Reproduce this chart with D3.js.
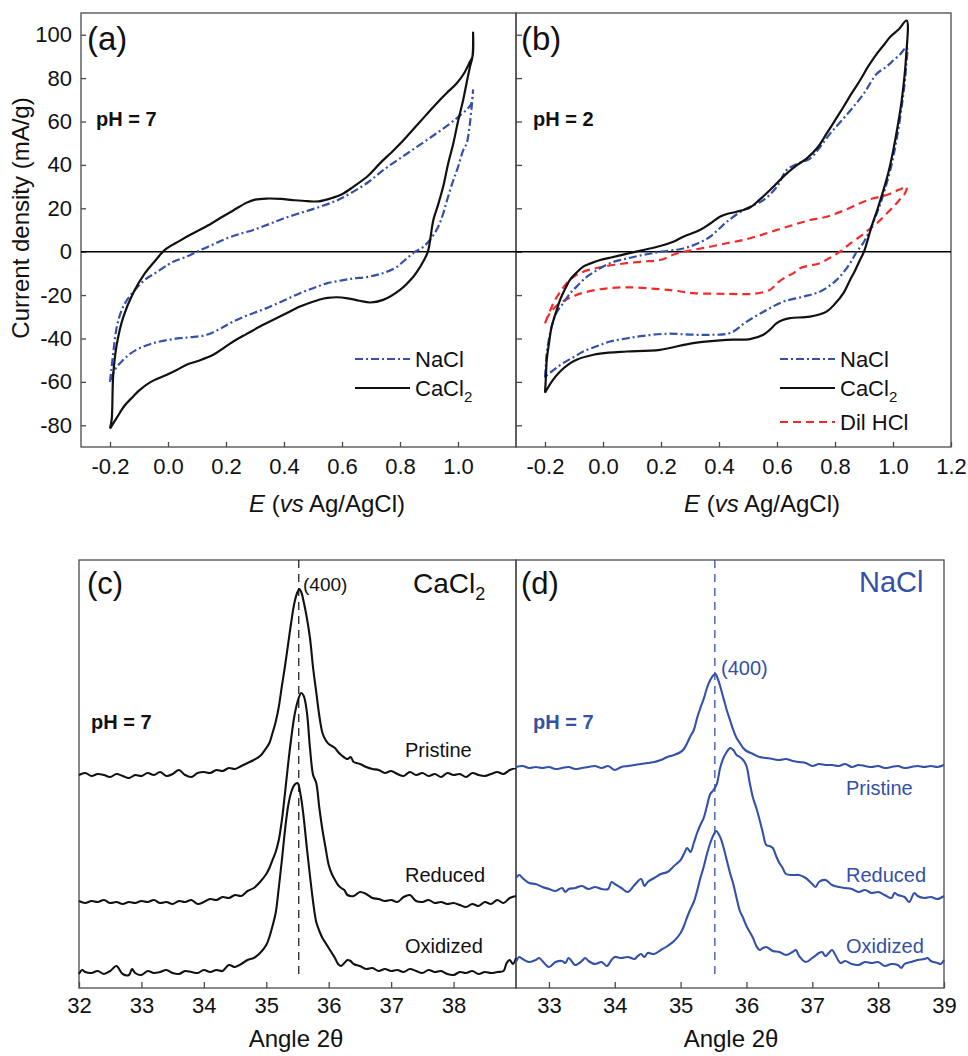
<!DOCTYPE html>
<html><head><meta charset="utf-8">
<script src="https://cdn.jsdelivr.net/npm/d3@7/dist/d3.min.js"></script>
<style>
html,body{margin:0;padding:0;background:#fff;}
text{font-family:"Liberation Sans",Arial,Helvetica,sans-serif;}
</style></head>
<body>
<svg id="fig" width="968" height="1056"></svg>
<script>
// ---------------- DATA ----------------
// Cyclic voltammograms [E (V vs Ag/AgCl), current density (mA/g)]
const cvTicksA = [-0.2,0,0.2,0.4,0.6,0.8,1.0];
const cvTicksB = [-0.2,0,0.2,0.4,0.6,0.8,1.0,1.2];
const cvYTicks = [-80,-60,-40,-20,0,20,40,60,80,100];

const aCaCl2 = [[-0.2,-81.5],[-0.194,-77],[-0.189,-57],[-0.177,-43],[-0.154,-30],[-0.12,-19],[-0.08,-10],[-0.04,-3.5],[-0.01,1],[0.04,5],[0.08,8],[0.13,11.5],[0.18,15.5],[0.225,19],[0.27,22.5],[0.3,24],[0.34,24.5],[0.39,24.3],[0.43,23.8],[0.48,23.3],[0.52,23.2],[0.56,24.5],[0.6,26.5],[0.64,30],[0.69,35],[0.73,40.6],[0.78,47],[0.823,53],[0.87,60],[0.915,66.7],[0.96,73],[0.995,77.5],[1.02,82],[1.041,87.5],[1.05,90],[1.052,101],[1.05,90],[1.041,85],[1.03,78],[1.018,70],[1.0,60],[0.984,50],[0.965,40],[0.949,30],[0.93,21],[0.915,14.6],[0.896,0],[0.88,-4.5],[0.86,-9],[0.846,-11.5],[0.8,-17.6],[0.742,-22.2],[0.697,-23.4],[0.66,-22.6],[0.62,-21.5],[0.582,-21],[0.55,-21.3],[0.524,-22],[0.49,-23.5],[0.455,-25.3],[0.398,-29.1],[0.317,-34.5],[0.27,-38],[0.225,-41.4],[0.156,-47.5],[0.1,-50.5],[0.064,-52.1],[0.03,-54.5],[-0.004,-56.7],[-0.062,-60.2],[-0.1,-64],[-0.12,-66.7],[-0.15,-71],[-0.177,-76.6],[-0.2,-81.5]];

const aNaCl = [[-0.2,-60],[-0.196,-55],[-0.19,-48],[-0.177,-35],[-0.16,-27],[-0.14,-22],[-0.11,-17],[-0.08,-13],[-0.04,-9.5],[0.0,-6],[0.02,-4.5],[0.06,-2.5],[0.1,0],[0.15,3],[0.2,6],[0.25,8.3],[0.294,10],[0.35,12.8],[0.398,15.3],[0.46,18],[0.524,20.7],[0.58,23.5],[0.628,26.8],[0.69,32],[0.742,37.6],[0.8,43],[0.858,48.3],[0.92,54],[0.972,59],[1.0,62],[1.03,65.5],[1.045,68],[1.052,74.5],[1.048,68],[1.04,58],[1.03,50],[1.018,46.8],[1.0,39],[0.984,33],[0.965,25],[0.949,17.6],[0.93,11],[0.903,5.4],[0.878,2],[0.852,0],[0.82,-3.5],[0.789,-7],[0.75,-9.5],[0.72,-10.7],[0.68,-11.8],[0.639,-12.3],[0.6,-13.2],[0.547,-14.6],[0.5,-16.8],[0.455,-19.1],[0.4,-22.5],[0.34,-26],[0.28,-29],[0.225,-32.2],[0.18,-35.5],[0.133,-38.3],[0.08,-39.4],[0.041,-39.8],[-0.028,-41.4],[-0.06,-42.5],[-0.097,-44.4],[-0.13,-47],[-0.154,-49.8],[-0.183,-54.4],[-0.2,-60]];

const bCaCl2 = [[-0.2,-65],[-0.197,-58],[-0.194,-50],[-0.186,-42],[-0.177,-34.5],[-0.16,-27],[-0.148,-22.2],[-0.13,-17],[-0.114,-13],[-0.09,-9.5],[-0.068,-6.9],[-0.045,-5.5],[-0.01,-3.8],[0.024,-2.8],[0.08,-1],[0.139,0.8],[0.197,2.6],[0.24,4.5],[0.277,6.9],[0.334,10],[0.37,13],[0.403,16.1],[0.43,17.5],[0.461,18.4],[0.507,20.4],[0.54,24],[0.576,28.4],[0.633,36],[0.67,40],[0.702,42.9],[0.74,48],[0.771,54.4],[0.8,60.5],[0.829,66.7],[0.86,73.5],[0.886,78.9],[0.915,85.5],[0.944,91.2],[0.97,95.5],[0.99,98.9],[1.02,102.5],[1.047,106.5],[1.045,89.7],[1.03,69.7],[1.015,57],[1.001,46.8],[0.985,37],[0.967,28.4],[0.945,19],[0.926,11.5],[0.9,0],[0.886,-3.8],[0.868,-9],[0.852,-13],[0.829,-19.1],[0.8,-24],[0.771,-27.6],[0.714,-29.9],[0.645,-30.6],[0.62,-31.5],[0.599,-32.9],[0.575,-36],[0.553,-38.3],[0.507,-40.3],[0.427,-40.6],[0.311,-42.1],[0.197,-45.2],[0.082,-46],[0.02,-46.5],[-0.033,-47.5],[-0.091,-49.8],[-0.12,-52],[-0.148,-55.2],[-0.175,-59.5],[-0.2,-65]];

const bNaCl = [[-0.2,-58],[-0.197,-52],[-0.194,-46.7],[-0.186,-40],[-0.177,-34.5],[-0.16,-28],[-0.137,-23.7],[-0.115,-19.5],[-0.091,-16.1],[-0.06,-12],[-0.033,-9.5],[0.024,-5.3],[0.08,-3.2],[0.139,-1.5],[0.2,0],[0.277,1.5],[0.33,4],[0.369,6.9],[0.4,10.5],[0.427,13.8],[0.484,19.2],[0.553,23.8],[0.6,30],[0.633,37.6],[0.67,40.5],[0.714,42.9],[0.75,48.5],[0.783,54.4],[0.82,60],[0.863,66.7],[0.9,73],[0.944,82],[0.975,85],[1.001,88.1],[1.025,91],[1.047,94.3],[1.045,85],[1.033,69.7],[1.012,51.4],[0.995,40],[0.978,31.4],[0.96,23.5],[0.944,17.6],[0.915,8.4],[0.895,3.5],[0.875,0],[0.852,-5.3],[0.806,-13],[0.748,-18.4],[0.691,-20.7],[0.622,-23],[0.565,-26.8],[0.496,-32.2],[0.438,-37.5],[0.369,-38.3],[0.3,-38.2],[0.22,-37.8],[0.139,-38.8],[0.08,-40],[0.024,-41.4],[-0.02,-43.5],[-0.068,-46],[-0.1,-48.5],[-0.137,-51.3],[-0.17,-54.5],[-0.194,-57],[-0.2,-58]];

const bHCl = [[-0.2,-33],[-0.185,-28],[-0.171,-23.7],[-0.15,-19],[-0.125,-14.5],[-0.1,-11.5],[-0.068,-9.2],[-0.03,-7.8],[-0.001,-6.9],[0.04,-6],[0.082,-5.3],[0.14,-4.5],[0.197,-3.8],[0.254,-0.8],[0.31,0.8],[0.369,2.3],[0.43,4],[0.484,5.4],[0.54,7.5],[0.599,10],[0.66,12.5],[0.714,14.6],[0.771,16.1],[0.83,19],[0.886,22.3],[0.93,24.5],[0.978,26.1],[1.02,28.5],[1.047,29.9],[1.041,26.8],[1.02,23.5],[1.001,20.7],[0.97,16.5],[0.944,13],[0.915,10],[0.886,6.9],[0.85,3.5],[0.817,0],[0.78,-3],[0.748,-5.3],[0.679,-7.6],[0.656,-10],[0.633,-11.5],[0.6,-14.5],[0.576,-17.6],[0.518,-19.4],[0.427,-19.4],[0.311,-19.1],[0.25,-18],[0.197,-17.3],[0.082,-16.4],[-0.01,-17.3],[-0.091,-19.9],[-0.148,-23.7],[-0.183,-28.3],[-0.2,-33]];

// XRD patterns [2θ (deg), intensity (a.u., stacked offsets)]
const xrdTicksC = [32,33,34,35,36,37,38];
const xrdTicksD = [33,34,35,36,37,38,39];
const peak400 = 35.52;

const cPristine = [[32.0,213],[32.1,215],[32.2,212],[32.3,214],[32.4,213],[32.5,211],[32.6,214],[32.7,212],[32.8,210],[32.9,213],[33.0,212],[33.1,215],[33.2,213],[33.3,216],[33.4,212],[33.5,214],[33.6,218],[33.7,213],[33.8,211],[33.9,215],[34.0,216],[34.1,215],[34.2,218],[34.3,217],[34.4,220],[34.5,219],[34.6,222],[34.7,225],[34.8,228],[34.9,232],[35.0,240],[35.05,245],[35.1,255],[35.15,266],[35.2,281],[35.25,302],[35.3,322],[35.35,344],[35.4,366],[35.45,385],[35.5,396],[35.53,399],[35.56,396],[35.6,386],[35.65,370],[35.7,350],[35.75,320],[35.8,296],[35.85,272],[35.9,255],[35.95,248],[36.0,244],[36.05,242],[36.1,240],[36.15,236],[36.2,233],[36.3,229],[36.35,231],[36.4,226],[36.5,224],[36.6,221],[36.7,219],[36.8,218],[36.9,215],[37.0,217],[37.1,214],[37.2,212],[37.3,216],[37.4,213],[37.5,215],[37.6,212],[37.7,214],[37.8,211],[37.9,215],[38.0,213],[38.1,214],[38.2,211],[38.3,215],[38.4,213],[38.5,212],[38.6,214],[38.7,216],[38.8,214],[38.9,218],[39.0,220]];

const cReduced = [[32.0,87],[32.1,85],[32.2,87],[32.3,86],[32.4,88],[32.5,85],[32.6,86],[32.7,84],[32.8,86],[32.9,85],[33.0,87],[33.1,86],[33.2,88],[33.3,85],[33.4,86],[33.5,84],[33.6,87],[33.7,86],[33.8,88],[33.9,84],[34.0,86],[34.1,89],[34.2,88],[34.3,91],[34.4,90],[34.5,93],[34.6,92],[34.7,97],[34.8,100],[34.9,106],[35.0,114],[35.05,120],[35.1,128],[35.15,136],[35.2,148],[35.25,168],[35.3,195],[35.35,224],[35.4,250],[35.45,272],[35.5,286],[35.56,295],[35.6,292],[35.65,276],[35.7,240],[35.75,213],[35.8,205],[35.85,180],[35.9,158],[35.95,140],[36.0,123],[36.05,114],[36.1,108],[36.15,103],[36.2,100],[36.25,98],[36.3,93],[36.4,92],[36.5,96],[36.6,94],[36.7,90],[36.8,89],[36.9,87],[37.0,88],[37.1,86],[37.2,91],[37.3,93],[37.4,87],[37.5,86],[37.6,88],[37.7,85],[37.8,86],[37.9,84],[38.0,85],[38.1,83],[38.2,81],[38.3,84],[38.4,82],[38.5,86],[38.6,84],[38.7,88],[38.8,85],[38.9,90],[39.0,92]];

const cOxidized = [[32.0,14],[32.05,18],[32.1,16],[32.2,15],[32.3,17],[32.4,14],[32.5,17],[32.6,22],[32.7,14],[32.8,13],[32.85,19],[32.9,15],[33.0,13],[33.1,17],[33.2,15],[33.3,16],[33.4,18],[33.5,15],[33.6,14],[33.7,17],[33.8,16],[33.9,15],[34.0,18],[34.1,16],[34.2,18],[34.3,17],[34.4,23],[34.5,21],[34.6,24],[34.7,28],[34.8,30],[34.9,35],[35.0,43],[35.05,51],[35.1,62],[35.15,75],[35.2,100],[35.25,128],[35.3,158],[35.35,182],[35.4,196],[35.45,203],[35.5,205],[35.55,193],[35.6,170],[35.65,140],[35.7,112],[35.75,86],[35.8,66],[35.85,57],[35.9,50],[35.95,45],[36.0,40],[36.05,35],[36.1,30],[36.15,24],[36.2,22],[36.25,25],[36.3,28],[36.35,27],[36.4,24],[36.5,22],[36.6,19],[36.7,20],[36.8,17],[36.9,19],[37.0,17],[37.1,18],[37.2,16],[37.3,19],[37.4,17],[37.5,15],[37.6,18],[37.7,16],[37.8,17],[37.9,14],[38.0,13],[38.1,16],[38.2,15],[38.3,17],[38.4,14],[38.5,16],[38.6,15],[38.7,16],[38.8,17],[38.85,25],[38.9,28],[38.95,24],[39.0,30]];

const dPristine = [[32.5,221],[32.6,222],[32.7,220],[32.8,221],[32.9,220],[33.0,221],[33.1,219],[33.2,220],[33.3,221],[33.4,219],[33.5,220],[33.6,221],[33.7,222],[33.8,220],[33.9,222],[34.0,218],[34.1,221],[34.2,222],[34.3,223],[34.4,224],[34.5,225],[34.6,226],[34.7,228],[34.8,231],[34.9,233],[35.0,236],[35.05,239],[35.1,245],[35.15,252],[35.2,258],[35.25,270],[35.3,280],[35.35,289],[35.4,300],[35.45,308],[35.5,313],[35.53,314],[35.56,310],[35.6,302],[35.65,290],[35.7,278],[35.75,268],[35.8,258],[35.85,250],[35.9,245],[35.95,240],[36.0,237],[36.1,234],[36.2,231],[36.3,230],[36.4,229],[36.5,228],[36.6,229],[36.7,227],[36.8,226],[36.9,225],[37.0,222],[37.1,224],[37.2,223],[37.3,223],[37.4,222],[37.5,224],[37.6,221],[37.7,223],[37.8,222],[37.9,221],[38.0,222],[38.1,220],[38.2,221],[38.3,222],[38.4,220],[38.5,221],[38.6,222],[38.7,221],[38.8,222],[38.9,221],[39.0,223]];

const dReduced = [[32.5,110],[32.55,113],[32.6,110],[32.7,105],[32.8,104],[32.9,101],[33.0,99],[33.1,97],[33.2,100],[33.25,96],[33.3,99],[33.4,100],[33.5,102],[33.6,99],[33.7,101],[33.8,99],[33.9,99],[33.95,106],[34.0,104],[34.1,100],[34.2,96],[34.3,103],[34.4,109],[34.45,102],[34.5,106],[34.6,110],[34.7,114],[34.8,116],[34.9,122],[35.0,128],[35.05,134],[35.1,140],[35.15,136],[35.2,145],[35.25,155],[35.3,163],[35.35,170],[35.4,182],[35.45,194],[35.5,198],[35.55,204],[35.6,220],[35.65,230],[35.7,236],[35.75,240],[35.8,238],[35.85,233],[35.9,231],[35.95,228],[36.0,222],[36.05,205],[36.1,190],[36.15,180],[36.2,168],[36.25,155],[36.3,143],[36.35,142],[36.4,140],[36.45,132],[36.5,125],[36.55,120],[36.6,114],[36.7,113],[36.8,113],[36.9,110],[37.0,104],[37.05,101],[37.1,106],[37.2,108],[37.3,103],[37.4,101],[37.5,100],[37.6,99],[37.7,96],[37.8,98],[37.9,95],[38.0,96],[38.1,93],[38.2,90],[38.25,95],[38.3,93],[38.4,91],[38.47,86],[38.55,95],[38.6,92],[38.7,90],[38.8,91],[38.9,89],[39.0,92]];

const dOxidized = [[32.5,26],[32.55,31],[32.6,29],[32.7,26],[32.8,28],[32.85,30],[32.9,27],[33.0,21],[33.1,26],[33.2,27],[33.25,25],[33.3,30],[33.4,23],[33.5,27],[33.55,30],[33.6,27],[33.7,24],[33.8,26],[33.88,22],[33.95,28],[34.0,31],[34.1,30],[34.2,31],[34.3,29],[34.35,32],[34.4,34],[34.45,31],[34.5,35],[34.6,34],[34.7,38],[34.8,42],[34.9,47],[35.0,55],[35.05,62],[35.1,71],[35.15,79],[35.2,86],[35.25,97],[35.3,110],[35.35,121],[35.4,134],[35.45,145],[35.5,153],[35.54,157],[35.6,151],[35.65,141],[35.7,128],[35.75,115],[35.8,104],[35.85,90],[35.9,77],[35.95,70],[36.0,62],[36.05,56],[36.1,50],[36.15,42],[36.2,38],[36.25,40],[36.3,41],[36.4,37],[36.5,36],[36.6,33],[36.7,36],[36.75,38],[36.8,32],[36.9,26],[37.0,30],[37.1,35],[37.15,36],[37.2,32],[37.3,38],[37.35,33],[37.43,25],[37.5,27],[37.6,24],[37.7,23],[37.8,26],[37.9,25],[38.0,26],[38.1,22],[38.2,24],[38.3,23],[38.35,20],[38.4,24],[38.5,26],[38.6,28],[38.7,29],[38.75,30],[38.8,27],[38.9,25],[38.95,24],[39.0,28]];

// ---------------- DRAWING ----------------
const BLUE = "#3450a8", RED = "#f42a2a", BLACK = "#111";
const svg = d3.select("#fig");
const FONT = '"Liberation Sans",Arial,Helvetica,sans-serif';

const box = {
  a:{x0:81,x1:516,y0:13,y1:447},
  b:{x0:516,x1:951,y0:13,y1:447},
  c:{x0:79,x1:516,y0:560,y1:988},
  d:{x0:516,x1:944,y0:560,y1:988}
};

const xA = d3.scaleLinear().domain([-0.3,1.2]).range([box.a.x0,box.a.x1]);
const xB = d3.scaleLinear().domain([-0.3,1.2]).range([box.b.x0,box.b.x1]);
const yCV = d3.scaleLinear().domain([-90,110]).range([box.a.y1,box.a.y0]);
const xC = d3.scaleLinear().domain([32,39]).range([box.c.x0,box.c.x1]);
const xD = d3.scaleLinear().domain([32.5,39]).range([box.d.x0,box.d.x1]);
const yX = d3.scaleLinear().domain([0,428]).range([box.c.y1,box.c.y0]);

function drawBox(b){
  svg.append("rect").attr("x",b.x0).attr("y",b.y0).attr("width",b.x1-b.x0).attr("height",b.y1-b.y0)
    .attr("fill","none").attr("stroke","#4a4a4a").attr("stroke-width",1.3);
}

function styleAxis(g, size){
  g.select(".domain").remove();
  g.selectAll(".tick line").attr("stroke","#4a4a4a").attr("stroke-width",1.3);
  g.selectAll(".tick text").attr("font-family",FONT).attr("font-size",size).attr("fill","#111");
}

// x-axis for CV panels
const fmt1 = d => d.toFixed(1);
[[xA,cvTicksA,box.a],[xB,cvTicksB,box.b]].forEach(([sc,tv,b])=>{
  const g = svg.append("g").attr("transform",`translate(0,${b.y1})`)
    .call(d3.axisBottom(sc).tickValues(tv).tickFormat(fmt1).tickSize(-5).tickPadding(11));
  styleAxis(g,22);
});
// y-axis (a) with labels
{
  const g = svg.append("g").attr("transform",`translate(${box.a.x0},0)`)
    .call(d3.axisLeft(yCV).tickValues(cvYTicks).tickFormat(d=>String(d)).tickSize(-5).tickPadding(9));
  styleAxis(g,22);
}
// y-axis (b) ticks only
{
  const g = svg.append("g").attr("transform",`translate(${box.b.x0},0)`)
    .call(d3.axisLeft(yCV).tickValues(cvYTicks).tickFormat("").tickSize(-6));
  styleAxis(g,22);
}
// XRD x-axes
[[xC,xrdTicksC,box.c],[xD,xrdTicksD,box.d]].forEach(([sc,tv,b])=>{
  const g = svg.append("g").attr("transform",`translate(0,${b.y1})`)
    .call(d3.axisBottom(sc).tickValues(tv).tickFormat(d=>String(d)).tickSize(-6).tickPadding(9));
  styleAxis(g,22);
});

Object.values(box).forEach(drawBox);

// zero line across (a) and (b)
svg.append("line").attr("x1",box.a.x0).attr("x2",box.b.x1).attr("y1",yCV(0)).attr("y2",yCV(0))
  .attr("stroke","#000").attr("stroke-width",1.6);

// CV curves
const curveCV = d3.curveCatmullRom.alpha(0.5);
function cvLine(sx){ return d3.line().x(d=>sx(d[0])).y(d=>yCV(d[1])).curve(curveCV); }
const DASHDOT = "8,3,2,3", DASH = "8,5";
function path(data, gen, color, dash, w){
  svg.append("path").attr("d",gen(data)).attr("fill","none").attr("stroke",color)
    .attr("stroke-width",w||2.2).attr("stroke-dasharray",dash||null).attr("stroke-linejoin","round");
}
path(aNaCl, cvLine(xA), BLUE, DASHDOT);
path(aCaCl2, cvLine(xA), BLACK, null);
path(bHCl, cvLine(xB), RED, DASH);
path(bNaCl, cvLine(xB), BLUE, DASHDOT);
path(bCaCl2, cvLine(xB), BLACK, null);

// XRD curves
const curveX = d3.curveCatmullRom.alpha(0.5);
function xLine(sx){ return d3.line().x(d=>sx(d[0])).y(d=>yX(d[1])).curve(curveX); }
// dashed reference lines at (400)
svg.append("line").attr("x1",xC(peak400)).attr("x2",xC(peak400)).attr("y1",box.c.y0).attr("y2",980)
  .attr("stroke","#222").attr("stroke-width",1.3).attr("stroke-dasharray","8,6");
svg.append("line").attr("x1",xD(peak400)).attr("x2",xD(peak400)).attr("y1",box.d.y0).attr("y2",980)
  .attr("stroke",BLUE).attr("stroke-width",1.3).attr("stroke-dasharray","8,6");
[cPristine,cReduced,cOxidized].forEach(d=>path(d,xLine(xC),BLACK,null,2.1));
[dPristine,dReduced,dOxidized].forEach(d=>path(d,xLine(xD),BLUE,null,2.1));

// ---------------- TEXT ----------------
function txt(x,y,s,opt){
  opt=opt||{};
  const t = svg.append("text").attr("x",x).attr("y",y).attr("font-family",FONT)
    .attr("font-size",opt.size||22).attr("fill",opt.color||"#111")
    .attr("font-weight",opt.bold?"bold":"normal").attr("text-anchor",opt.anchor||"start");
  if(s!==null) t.text(s);
  return t;
}
function withSub(x,y,main,sub,size,subSize,color,anchor){
  const t = txt(x,y,null,{size:size,color:color,anchor:anchor});
  t.append("tspan").text(main);
  t.append("tspan").attr("font-size",subSize).attr("dy",size*0.25).text(sub);
  return t;
}

// panel letters
txt(87,50,"(a)",{size:33});
txt(521,50,"(b)",{size:33});
txt(87,594,"(c)",{size:31});
txt(521,594,"(d)",{size:31});
// pH labels
txt(96,126,"pH = 7",{size:20,bold:true});
txt(533,126,"pH = 2",{size:20,bold:true});
txt(91,729,"pH = 7",{size:20,bold:true});
txt(533,729,"pH = 7",{size:20,bold:true,color:BLUE});

// axis titles
txt(0,0,"Current density (mA/g)",{size:24,anchor:"middle"}).attr("transform","translate(29,218) rotate(-90)");
function eTitle(cx){
  const t = txt(cx,512,null,{size:24,anchor:"middle"});
  t.append("tspan").attr("font-style","italic").text("E");
  t.append("tspan").text(" (");
  t.append("tspan").attr("font-style","italic").text("vs");
  t.append("tspan").text(" Ag/AgCl)");
}
eTitle(327); eTitle(762);
txt(296,1047,"Angle 2θ",{size:24,anchor:"middle"});
txt(731,1047,"Angle 2θ",{size:24,anchor:"middle"});

// legends
function legLine(x1,x2,y,color,dash){
  svg.append("line").attr("x1",x1).attr("x2",x2).attr("y1",y).attr("y2",y)
    .attr("stroke",color).attr("stroke-width",2.2).attr("stroke-dasharray",dash||null);
}
legLine(355,410,359,BLUE,DASHDOT); txt(415,367,"NaCl",{size:22});
legLine(355,410,388,BLACK,null); withSub(415,396,"CaCl","2",22,15);
legLine(780,835,359,BLUE,DASHDOT); txt(840,367,"NaCl",{size:22});
legLine(780,835,388,BLACK,null); withSub(840,396,"CaCl","2",22,15);
legLine(780,835,422,RED,DASH); txt(840,430,"Dil HCl",{size:22});

// XRD annotations
txt(303,591,"(400)",{size:19});
withSub(413,593,"CaCl","2",28,18);
txt(405,757,"Pristine",{size:20});
txt(405,882,"Reduced",{size:20});
txt(405,953,"Oxidized",{size:20});
txt(721,675,"(400)",{size:20,color:BLUE});
txt(859,592,"NaCl",{size:29,color:BLUE});
txt(846,795,"Pristine",{size:20,color:BLUE});
txt(846,882,"Reduced",{size:20,color:BLUE});
txt(846,953,"Oxidized",{size:20,color:BLUE});
</script>
</body></html>
